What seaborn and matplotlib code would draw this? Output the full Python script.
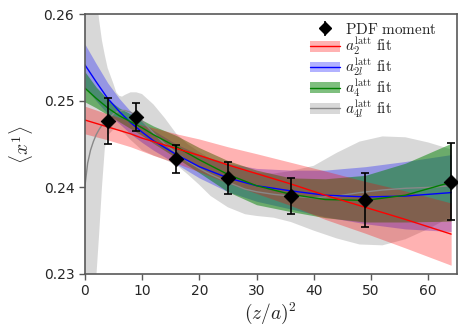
import numpy as np
import pandas as pd
import matplotlib
matplotlib.use("Agg")
import matplotlib.pyplot as plt
import seaborn as sns
from matplotlib.patches import Patch
from matplotlib.lines import Line2D

# ---------------- data ----------------
z2_pts = [4, 9, 16, 25, 36, 49, 64]
moment = [0.2477, 0.24815, 0.24328, 0.24109, 0.2390, 0.23855, 0.24067]
moment_err = [0.00265, 0.00165, 0.00165, 0.0018, 0.0021, 0.0031, 0.00445]

fit_x = [0, 2, 4, 6, 8, 10, 12, 16, 20, 25, 30, 36, 42, 49, 56, 64]

a2_mid = [0.2478, 0.2474, 0.2470, 0.2466, 0.2462, 0.2457, 0.2453, 0.2445,
          0.2437, 0.2426, 0.2416, 0.2404, 0.2391, 0.2377, 0.2363, 0.2346]
a2_lo = [0.2462, 0.24585, 0.2455, 0.2451, 0.2447, 0.2442, 0.2437, 0.2428,
         0.2418, 0.2405, 0.2393, 0.2379, 0.2363, 0.2347, 0.2330, 0.2310]
a2_hi = [0.2494, 0.24895, 0.2485, 0.2481, 0.2477, 0.2472, 0.2469, 0.2462,
         0.2456, 0.2447, 0.2439, 0.2429, 0.2419, 0.2407, 0.2396, 0.2382]

a2l_mid = [0.2542, 0.2522, 0.2503, 0.2488, 0.2475, 0.2464, 0.2454, 0.2438,
           0.2424, 0.2411, 0.2402, 0.2396, 0.2391, 0.2389, 0.2390, 0.2394]
a2l_lo = [0.2516, 0.2500, 0.2485, 0.2474, 0.2462, 0.2452, 0.2443, 0.2427,
          0.2411, 0.2395, 0.2384, 0.2375, 0.2366, 0.2358, 0.2352, 0.2349]
a2l_hi = [0.2566, 0.2543, 0.2521, 0.2503, 0.2488, 0.2476, 0.2466, 0.2450,
          0.2438, 0.2428, 0.2422, 0.2420, 0.2420, 0.2424, 0.2430, 0.2438]

a4_mid = [0.2515, 0.2503, 0.2492, 0.2483, 0.2476, 0.2469, 0.2461, 0.2447,
          0.2432, 0.2415, 0.2402, 0.2392, 0.2386, 0.2385, 0.2391, 0.2406]
a4_lo = [0.2499, 0.2492, 0.2484, 0.2476, 0.2468, 0.2460, 0.2451, 0.2434,
         0.2417, 0.2395, 0.2380, 0.2372, 0.2365, 0.2360, 0.2360, 0.2361]
a4_hi = [0.2534, 0.2516, 0.2502, 0.2492, 0.2485, 0.2478, 0.2471, 0.2460,
         0.2446, 0.2431, 0.2420, 0.2411, 0.2410, 0.2414, 0.2428, 0.2451]

a4l_x = [0, 0.5, 1, 1.5, 2, 2.5, 3, 3.5, 4, 5, 5.5, 6, 6.5, 7, 8, 9, 10, 11,
         12, 14, 16, 18, 20, 22, 25, 28, 30, 33, 36, 40, 44, 48, 52, 56, 60, 64]
a4l_mid = [0.2400, 0.2428, 0.2443, 0.2453, 0.2461, 0.2467, 0.2472, 0.2475,
           0.2478, 0.2485, 0.2487, 0.2488, 0.2489, 0.2489, 0.2487, 0.2483,
           0.2477, 0.2470, 0.2463, 0.2450, 0.2440, 0.2430, 0.2422, 0.2415,
           0.2406, 0.2398, 0.2395, 0.2392, 0.2390, 0.2388, 0.2390, 0.2394,
           0.2397, 0.2399, 0.2400, 0.2402]
a4l_lo = [0.2000, 0.2100, 0.2180, 0.2250, 0.2295, 0.2345, 0.2400, 0.2445,
          0.2460, 0.2467, 0.2468, 0.2466, 0.2464, 0.2462, 0.2455, 0.2449,
          0.2443, 0.2440, 0.2437, 0.2432, 0.2426, 0.2415, 0.2403, 0.2390,
          0.2377, 0.2369, 0.2367, 0.2365, 0.2360, 0.2350, 0.2341, 0.2334,
          0.2333, 0.2340, 0.2352, 0.2366]
a4l_hi = [0.3000, 0.2850, 0.2740, 0.2670, 0.2625, 0.2594, 0.2570, 0.2553,
          0.2538, 0.2520, 0.2510, 0.2506, 0.2505, 0.2507, 0.2510, 0.2510,
          0.2508, 0.2502, 0.2496, 0.2480, 0.2462, 0.2450, 0.2441, 0.2433,
          0.2425, 0.2419, 0.2417, 0.2416, 0.2419, 0.2425, 0.2440, 0.2453,
          0.2459, 0.2458, 0.2452, 0.2444]

x_ticks = [0, 10, 20, 30, 40, 50, 60]
y_ticks = [0.23, 0.24, 0.25, 0.26]

labels = [r"$a_2^{\rm latt}\ \mathrm{fit}$", r"$a_{2l}^{\rm latt}\ \mathrm{fit}$",
          r"$a_4^{\rm latt}\ \mathrm{fit}$", r"$a_{4l}^{\rm latt}\ \mathrm{fit}$"]

# ---------------- style ----------------
sns.set_style("ticks")
plt.rcParams["mathtext.fontset"] = "cm"
plt.rcParams["font.family"] = ["DejaVu Sans"]

fig = plt.figure(figsize=(4.71, 3.34), dpi=100)
ax = fig.add_axes([0.180, 0.180, 0.790, 0.7766])

gray_fit = (a4l_x, a4l_mid, a4l_lo, a4l_hi, "gray", 0.30, "#888888")
red_fit = (fit_x, a2_mid, a2_lo, a2_hi, "red", 0.30, "red")
blue_fit = (fit_x, a2l_mid, a2l_lo, a2l_hi, "blue", 0.30, "blue")
green_fit = (fit_x, a4_mid, a4_lo, a4_hi, "green", 0.50, "green")

draw_order = [gray_fit, blue_fit, green_fit, red_fit]
for xs, mid, lo, hi, fc, al, lc in draw_order:
    ax.fill_between(xs, lo, hi, color=fc, alpha=al, lw=0)
for xs, mid, lo, hi, fc, al, lc in draw_order:
    df = pd.DataFrame({"x": xs, "y": mid})
    sns.lineplot(data=df, x="x", y="y", ax=ax, color=lc, lw=1.0,
                 errorbar=None, sort=False)

ax.errorbar(z2_pts, moment, yerr=moment_err, fmt="none", ecolor="black",
            elinewidth=1.2, capsize=3, capthick=1.2, zorder=5)
sns.scatterplot(x=z2_pts, y=moment, ax=ax, marker="D", color="black",
                s=55, edgecolor="black", zorder=6)

ax.set_xlim(0, 65)
ax.set_ylim(0.23, 0.26)
ax.set_xticks(x_ticks)
ax.set_yticks(y_ticks)
ax.set_yticklabels(["0.23", "0.24", "0.25", "0.26"])
ax.tick_params(labelsize=10, length=4, width=1, color="0.35")
for s in ax.spines.values():
    s.set_color("0.35")
    s.set_linewidth(1.2)

ax.set_xlabel(r"$(z/a)^2$", fontsize=14, labelpad=2)
ax.set_ylabel(r"$\langle x^1 \rangle$", fontsize=14, labelpad=6)

# legend
pdf_handle = ax.errorbar([], [], yerr=[], fmt="D", color="black", ms=6,
                         capsize=3, elinewidth=1.2)
handles = [pdf_handle]
for (xs, mid, lo, hi, fc, al, lc) in [red_fit, blue_fit, green_fit, gray_fit]:
    handles.append((Patch(facecolor=fc, alpha=al, lw=0),
                    Line2D([], [], color=lc, lw=1.0)))
leg = ax.legend(handles, [r"$\mathrm{PDF\ moment}$"] + labels,
                loc="upper right", bbox_to_anchor=(0.975, 1.013),
                frameon=False, fontsize=11, handlelength=2.0,
                handletextpad=0.3, labelspacing=-0.05, borderpad=0.2)

fig.savefig("out.png", dpi=100)
